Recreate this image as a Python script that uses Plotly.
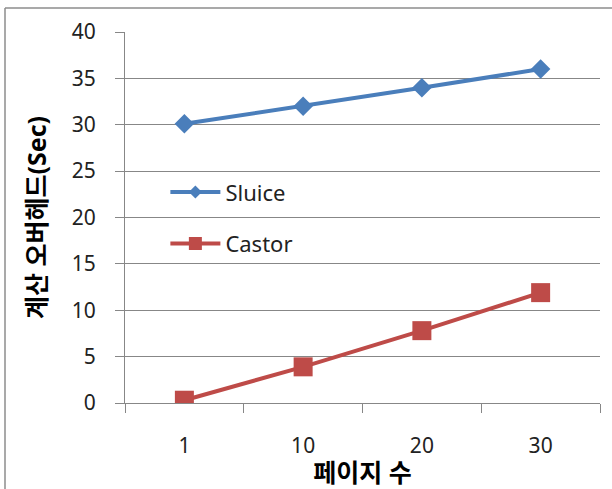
import plotly.graph_objects as go

categories = ["1", "10", "20", "30"]
sluice = [30.1, 32.0, 34.0, 36.0]
castor = [0.3, 3.9, 7.8, 11.9]
y_ticks = [0, 5, 10, 15, 20, 25, 30, 35, 40]

FONT = "Noto Sans, Noto Sans CJK KR, sans-serif"
GRID = "#878787"
BLUE = "#4A7EBB"
RED = "#BE4B48"

fig = go.Figure()
fig.add_trace(go.Scatter(
    x=categories, y=sluice, name="Sluice", mode="lines+markers",
    line=dict(color=BLUE, width=4),
    marker=dict(symbol="diamond", size=15, color=BLUE),
    showlegend=False,
))
fig.add_trace(go.Scatter(
    x=categories, y=castor, name="Castor", mode="lines+markers",
    line=dict(color=RED, width=4),
    marker=dict(symbol="square", size=19, color=RED),
    showlegend=False,
))
# legend entries (Excel-style smaller legend markers)
fig.add_trace(go.Scatter(
    x=[None], y=[None], name="Sluice", mode="lines+markers",
    line=dict(color=BLUE, width=4),
    marker=dict(symbol="diamond", size=10, color=BLUE),
    legendgroup="a",
))
fig.add_trace(go.Scatter(
    x=[None], y=[None], name="Castor", mode="lines+markers",
    line=dict(color=RED, width=4),
    marker=dict(symbol="square", size=13, color=RED),
    legendgroup="b",
))

fig.update_layout(
    width=612, height=489,
    margin=dict(l=125, r=12, t=32, b=86),
    paper_bgcolor="white", plot_bgcolor="white",
    font=dict(family=FONT, color="#000000", size=20),
    showlegend=True,
    legend=dict(
        x=0.085, y=0.625, xanchor="left", yanchor="top",
        bgcolor="rgba(0,0,0,0)", font=dict(size=22, family=FONT, color="#222222"),
        traceorder="grouped", tracegroupgap=20, itemwidth=50,
    ),
    shapes=[
        dict(type="line", xref="paper", yref="paper",
             x0=-120/475, x1=-120/475, y0=(489-86-8)/371, y1=-2,
             line=dict(color="#8c8c8c", width=1.5)),
        dict(type="line", xref="paper", yref="paper",
             x0=-120/475, x1=2, y0=(489-86-8)/371, y1=(489-86-8)/371,
             line=dict(color="#8c8c8c", width=1.5)),
    ],
)

fig.update_xaxes(
    type="category", range=[-0.5, 3.5],
    tickson="boundaries", ticks="outside", ticklen=9, tickcolor=GRID,
    showline=True, linecolor=GRID, linewidth=1,
    showgrid=False, ticklabelstandoff=24,
    tickfont=dict(size=21, family=FONT, color="#222222"),
    title=dict(text="<b>페이지 수</b>", font=dict(size=25, family=FONT), standoff=0),
)
fig.update_yaxes(
    range=[0, 40], tickvals=y_ticks,
    ticks="outside", ticklen=9, tickcolor=GRID,
    showline=True, linecolor=GRID, linewidth=1,
    showgrid=True, gridcolor=GRID, gridwidth=1, zeroline=False,
    ticklabelstandoff=15,
    tickfont=dict(size=21, family=FONT, color="#222222"),
    title=dict(text="<b>계산 오버헤드(Sec)</b>", font=dict(size=25, family=FONT), standoff=18),
)

fig.write_html("out.html")
